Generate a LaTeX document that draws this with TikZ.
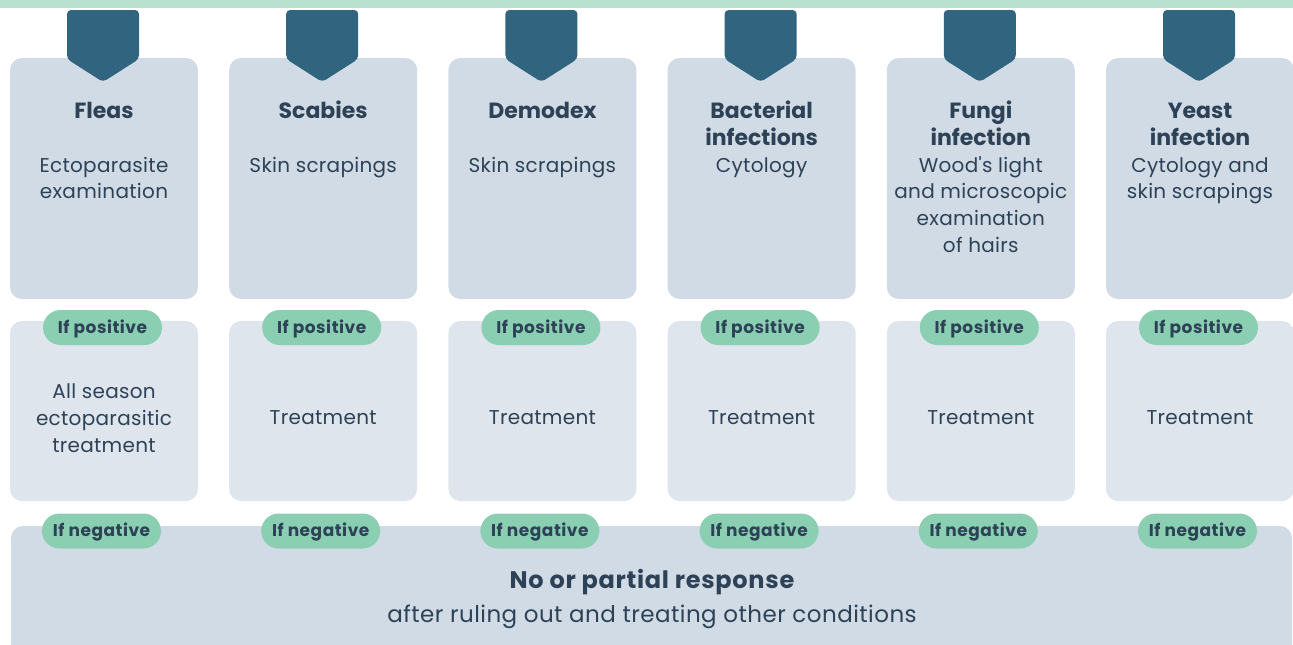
\documentclass[tikz,border=0pt]{standalone}
\usepackage{fontspec}
\setmainfont{Poppins}
\newfontfamily\widefont[LetterSpace=1.5]{Poppins}
\newfontfamily\footfont[LetterSpace=2]{Poppins}
\newfontfamily\pillfont[LetterSpace=3]{Poppins}
\usetikzlibrary{positioning}
\definecolor{bandgreen}{HTML}{B9E1D0}
\definecolor{tabblue}{HTML}{30647F}
\definecolor{boxgrey}{HTML}{D1DBE5}
\definecolor{boxlight}{HTML}{DEE5ED}
\definecolor{pillgreen}{HTML}{8ACFB1}
\definecolor{inkblue}{HTML}{2E4257}
\tikzset{
  testbox/.style={fill=boxgrey, rounded corners=12pt, minimum width=188pt,
    minimum height=241pt, inner sep=0pt},
  resultbox/.style={fill=boxlight, rounded corners=12pt, minimum width=188pt,
    minimum height=180pt, inner sep=0pt},
  pill/.style={fill=pillgreen, rounded corners=17.5pt, minimum width=119pt,
    minimum height=35pt, inner sep=0pt, text=inkblue, text height=12pt,
    text depth=1pt, font=\pillfont\fontsize{17}{18}\selectfont\bfseries},
  titletext/.style={text=inkblue, align=center, inner sep=0pt,
    font=\fontsize{22}{27}\selectfont\bfseries},
  bodytext/.style={text=inkblue, align=center, inner sep=0pt,
    font=\widefont\fontsize{20}{26.7}\selectfont},
}
\begin{document}
\begin{tikzpicture}[x=1pt,y=-1pt]
  \useasboundingbox (0,0) rectangle (1293,645);
  % bande du haut
  \fill[bandgreen] (0,0) rectangle (1293,8);
  % la reponse finale
  \fill[boxgrey, rounded corners=12pt] (11,526) rectangle (1292,670);
  \node[text=inkblue, inner sep=0pt,
    font=\pillfont\fontsize{24}{27}\selectfont\bfseries]
    (response) at (652,582) {No or partial response};
  \node[text=inkblue, inner sep=0pt, anchor=base,
    font=\footfont\fontsize{23}{27}\selectfont] (ruling) at (652,622)
    {after ruling out and treating other conditions};
  % les colonnes
  \foreach \nm/\ttl/\sub/\res [count=\i from 0] in {
      fleas/Fleas/{Ectoparasite\\examination}/{All season\\ectoparasitic\\treatment},
      scabies/Scabies/{Skin scrapings}/Treatment,
      demodex/Demodex/{Skin scrapings}/Treatment,
      bact/{Bacterial\\infections}/Cytology/Treatment,
      fungi/{Fungi\\infection}/{Wood's light\\and microscopic\\examination\\of hairs}/Treatment,
      yeast/{Yeast\\infection}/{Cytology and\\skin scrapings}/Treatment}
  {
    \pgfmathsetmacro{\cx}{104+219.2*\i}
    \node[testbox] (\nm-test) at (\cx,178.5) {};
    \fill[tabblue, rounded corners=4pt] (\cx-37,10) -- (\cx+35,10)
      -- (\cx+35,59) -- (\cx-1,82) -- (\cx-37,59) -- cycle;
    \node[titletext, anchor=north] (\nm-title) at (\cx,99.6) {\strut\ttl};
    \node[bodytext, anchor=north] (\nm-exam) at (\cx,153.3) {\strut\sub};
    \node[resultbox] (\nm-res) at (\cx,411) {};
    \node[bodytext] (\nm-treat) at (\cx,418) {\res};
    \node[pill] (\nm-pos) at (\cx-1.5,327.5) {If positive};
    \node[pill] (\nm-neg) at (\cx-2.5,531) {If negative};
  }
\end{tikzpicture}
\end{document}
